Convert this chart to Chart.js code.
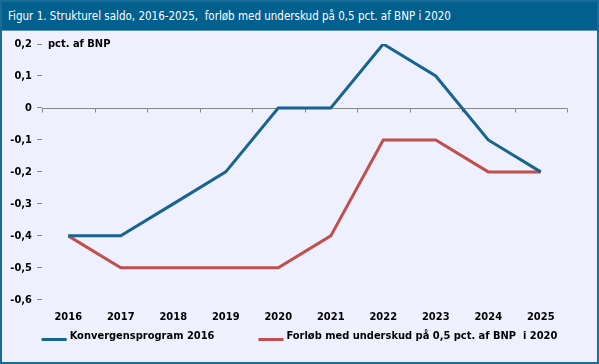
<!DOCTYPE html>
<html lang="da">
<head>
  <meta charset="UTF-8">
  <title>Strukturel saldo 2016-2025</title>
  <script src="https://cdn.jsdelivr.net/npm/chart.js"></script>
  <style>
    body {
      margin: 0;
      background: #ffffff;
    }
    .frame {
      position: relative;
      width: 595px;
      height: 360px;
      background: #eef0fd;
      border: 2px solid #1b6a97;
    }
    .title {
      height: 28px;
      background: #02608f;
      color: #ffffff;
      font-family: 'DejaVu Sans Condensed', sans-serif;
      font-size: 11.5px;
      line-height: 28px;
      padding-left: 6px;
      border-bottom: 1px solid #5f93b8;
      white-space: pre;
    }
    .plot {
      position: absolute;
      left: 0;
      top: 29px;
      width: 595px;
      height: 331px;
    }
  </style>
</head>
<body>
  <div class="frame">
    <div class="title">Figur 1. Strukturel saldo, 2016-2025,  forløb med underskud på 0,5 pct. af BNP i 2020</div>
    <div class="plot"><canvas id="saldoChart"></canvas></div>
  </div>

  <script>
    const years = ['2016', '2017', '2018', '2019', '2020', '2021', '2022', '2023', '2024', '2025'];
    const konvergens = [-0.4, -0.4, -0.3, -0.2, 0, 0, 0.2, 0.1, -0.1, -0.2];
    const underskud = [-0.4, -0.5, -0.5, -0.5, -0.5, -0.4, -0.1, -0.1, -0.2, -0.2];
    const yMin = -0.6;
    const yMax = 0.2;
    const yStep = 0.1;
    const unitLabel = 'pct. af BNP';

    const fontCss = "bold 11px 'DejaVu Sans Condensed', sans-serif";
    const labelFont = { family: "'DejaVu Sans Condensed', sans-serif", size: 11, weight: 'bold' };

    // zero line with category tick marks, plus unit text
    const zeroAxis = {
      id: 'zeroAxis',
      beforeDatasetsDraw(chart) {
        const { ctx, chartArea, scales } = chart;
        const y0 = Math.round(scales.y.getPixelForValue(0)) + 0.5;
        const n = years.length;
        const step = (chartArea.right - chartArea.left) / n;
        ctx.save();
        ctx.strokeStyle = '#868686';
        ctx.lineWidth = 1;
        ctx.beginPath();
        ctx.moveTo(chartArea.left, y0);
        ctx.lineTo(chartArea.right, y0);
        for (let i = 0; i <= n; i++) {
          const x = Math.round(chartArea.left + i * step) + 0.5;
          ctx.moveTo(x, y0);
          ctx.lineTo(x, y0 + 4);
        }
        ctx.stroke();
        ctx.fillStyle = '#000';
        ctx.font = fontCss;
        ctx.textBaseline = 'middle';
        ctx.fillText(unitLabel, chartArea.left + 6, scales.y.getPixelForValue(yMax));
        ctx.restore();
      }
    };

    // legend row under the axis labels, line samples like the original
    const lineLegend = {
      id: 'lineLegend',
      afterDraw(chart) {
        const { ctx } = chart;
        const sample = 25, textGap = 3, itemGap = 44;
        const y = chart.height - 26;
        ctx.save();
        ctx.font = fontCss;
        ctx.textBaseline = 'middle';
        const items = chart.data.datasets.map(ds => ({
          text: ds.label, color: ds.borderColor, w: ctx.measureText(ds.label).width
        }));
        const total = items.reduce((s, it) => s + sample + textGap + it.w, 0) + itemGap * (items.length - 1);
        let x = (chart.width - total) / 2;
        items.forEach(it => {
          ctx.fillStyle = it.color;
          ctx.fillRect(x, y + 2, sample, 3);
          ctx.fillStyle = '#000';
          ctx.fillText(it.text, x + sample + textGap, y);
          x += sample + textGap + it.w + itemGap;
        });
        ctx.restore();
      }
    };

    new Chart(document.getElementById('saldoChart'), {
      type: 'line',
      data: {
        labels: years,
        datasets: [
          {
            label: 'Konvergensprogram 2016',
            data: konvergens,
            borderColor: '#17658f',
            backgroundColor: '#17658f',
            borderWidth: 3,
            pointRadius: 0,
            tension: 0
          },
          {
            label: 'Forløb med underskud på 0,5 pct. af BNP  i 2020',
            data: underskud,
            borderColor: '#c0504d',
            backgroundColor: '#c0504d',
            borderWidth: 3,
            pointRadius: 0,
            tension: 0
          }
        ]
      },
      options: {
        responsive: true,
        maintainAspectRatio: false,
        animation: false,
        layout: { padding: { top: 13, right: 30, left: 0, bottom: 27 } },
        plugins: {
          legend: { display: false },
          tooltip: { enabled: false }
        },
        scales: {
          x: {
            offset: true,
            grid: { display: false, drawTicks: false },
            border: { display: false },
            ticks: { color: '#000', font: labelFont, padding: 11, maxRotation: 0 }
          },
          y: {
            min: yMin,
            max: yMax,
            afterFit(scale) { scale.width = 40; },
            ticks: {
              stepSize: yStep,
              color: '#000',
              font: labelFont,
              padding: 5,
              callback: v => {
                const r = Math.round(v * 10) / 10;
                return r === 0 ? '0' : r.toFixed(1).replace('.', ',');
              }
            },
            grid: { drawOnChartArea: false, tickLength: 5, color: '#868686' },
            border: { display: false }
          }
        }
      },
      plugins: [zeroAxis, lineLegend]
    });
  </script>
</body>
</html>
